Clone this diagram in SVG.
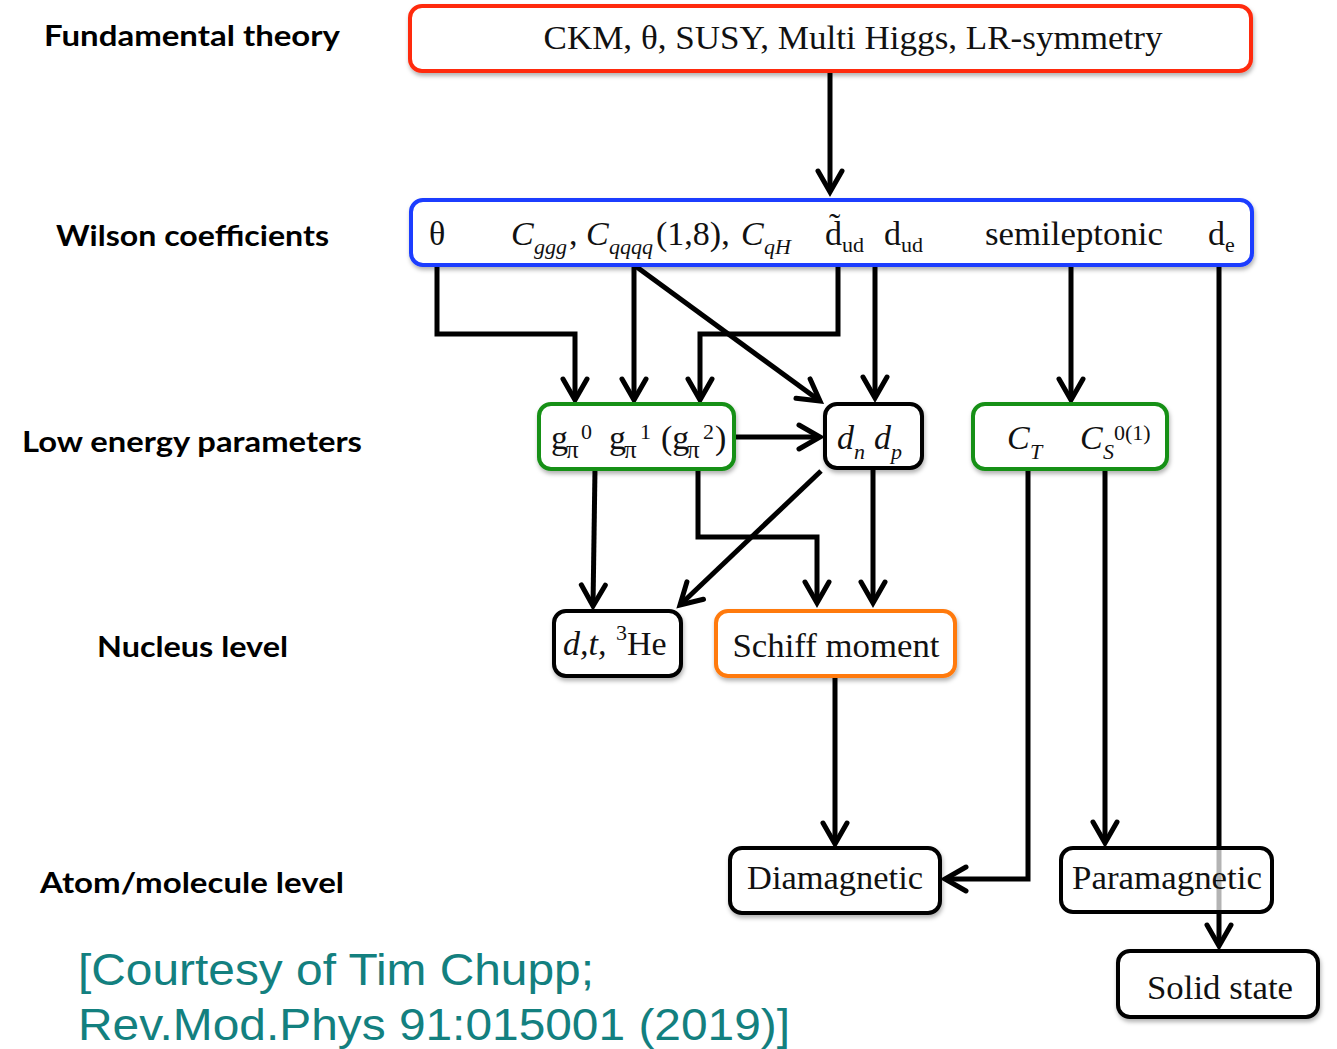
<svg xmlns="http://www.w3.org/2000/svg" width="1337" height="1049" viewBox="0 0 1337 1049">
<style>
.lbl{font-family:"Lato","Open Sans",sans-serif;font-weight:bold;font-size:28px;fill:#000}
.t{font-family:"Liberation Serif","Times New Roman",serif;font-size:34px;fill:#111}
.i{font-style:italic}
.s{font-size:22px}
.p{font-size:25px}
.box{fill:#fff;stroke-width:4;filter:url(#sh)}
.c{fill:none;stroke:#000;stroke-width:5;stroke-linejoin:miter}
.cite{font-family:"Liberation Sans",Arial,sans-serif;font-size:44px;fill:#13807f}
</style>
<defs>
<filter id="sh" x="-10%" y="-20%" width="120%" height="150%">
<feDropShadow dx="1" dy="3" stdDeviation="2" flood-color="#000" flood-opacity="0.3"/>
</filter>
<marker id="ah" markerUnits="userSpaceOnUse" markerWidth="40" markerHeight="40" viewBox="-30 -20 40 40" refX="0" refY="0" orient="auto" overflow="visible">
<path d="M-21,-12 L0,0 L-21,12" fill="none" stroke="#000" stroke-width="5" stroke-linecap="round" stroke-linejoin="miter"/>
</marker>
</defs>
<rect width="1337" height="1049" fill="#fff"/>

<g id="labels">
<text class="lbl" x="44" y="46" textLength="296" lengthAdjust="spacingAndGlyphs">Fundamental theory</text>
<text class="lbl" x="56" y="246" textLength="273" lengthAdjust="spacingAndGlyphs">Wilson coefficients</text>
<text class="lbl" x="22" y="452" textLength="340" lengthAdjust="spacingAndGlyphs">Low energy parameters</text>
<text class="lbl" x="97" y="657" textLength="191" lengthAdjust="spacingAndGlyphs">Nucleus level</text>
<text class="lbl" x="40" y="893" textLength="304" lengthAdjust="spacingAndGlyphs">Atom/molecule level</text>
</g>

<g id="connectors">
<path class="c" d="M830,71 V192" marker-end="url(#ah)"/>
<path class="c" d="M437,265 V334 H575 V400" marker-end="url(#ah)"/>
<path class="c" d="M634,265 V400" marker-end="url(#ah)"/>
<path class="c" d="M634,265 L820,401" marker-end="url(#ah)"/>
<path class="c" d="M838,265 V334 H700 V400" marker-end="url(#ah)"/>
<path class="c" d="M875,265 V398" marker-end="url(#ah)"/>
<path class="c" d="M1071,265 V400" marker-end="url(#ah)"/>
<path class="c" d="M1219,265 V946" marker-end="url(#ah)"/>
<path class="c" d="M734,437 H820" marker-end="url(#ah)"/>
<path class="c" d="M595,469 L593,606" marker-end="url(#ah)"/>
<path class="c" d="M698,469 V537 H817 V603" marker-end="url(#ah)"/>
<path class="c" d="M821,471 L680,605" marker-end="url(#ah)"/>
<path class="c" d="M873,468 V603" marker-end="url(#ah)"/>
<path class="c" d="M1028,469 V879 H945" marker-end="url(#ah)"/>
<path class="c" d="M1105,469 V843" marker-end="url(#ah)"/>
<path class="c" d="M835,676 V844" marker-end="url(#ah)"/>
</g>

<g id="fundamental">
<rect class="box" x="410" y="6" width="841" height="65" rx="12" stroke="#ff2a0a"/>
<text class="t" x="853" y="49" text-anchor="middle" textLength="619" lengthAdjust="spacingAndGlyphs">CKM, θ, SUSY, Multi Higgs, LR-symmetry</text>
</g>

<g id="wilson">
<rect class="box" x="411" y="200" width="841" height="65" rx="12" stroke="#1a3cff"/>
<text class="t" x="429" y="245">θ</text>
<text class="t i" x="511" y="245">C</text>
<text class="t i s" x="534" y="254">ggg</text>
<text class="t" x="569" y="245">,</text>
<text class="t i" x="586" y="245">C</text>
<text class="t i s" x="609" y="254">qqqq</text>
<text class="t" x="656" y="245">(1,8),</text>
<text class="t i" x="741" y="245">C</text>
<text class="t i s" x="764" y="254">qH</text>
<text class="t" x="825" y="245">d̃</text>
<text class="t s" x="842" y="252">ud</text>
<text class="t" x="884" y="245">d</text>
<text class="t s" x="901" y="252">ud</text>
<text class="t" x="985" y="245" textLength="178" lengthAdjust="spacingAndGlyphs">semileptonic</text>
<text class="t" x="1208" y="245">d</text>
<text class="t s" x="1225" y="252">e</text>
</g>

<g id="gpi">
<rect class="box" x="539" y="404" width="195" height="65" rx="12" stroke="#159015"/>
<text class="t" x="551" y="449">g</text>
<text class="t p" x="566" y="458">π</text>
<text class="t s" x="581" y="439">0</text>
<text class="t" x="609" y="449">g</text>
<text class="t p" x="624" y="458">π</text>
<text class="t s" x="640" y="439">1</text>
<text class="t" x="661" y="449">(g</text>
<text class="t p" x="687" y="458">π</text>
<text class="t s" x="703" y="439">2</text>
<text class="t" x="715" y="449">)</text>
</g>

<g id="dndp">
<rect class="box" x="825" y="404" width="97" height="64" rx="12" stroke="#000"/>
<text class="t i" x="837" y="449">d</text>
<text class="t i s" x="854" y="459">n</text>
<text class="t i" x="874" y="449">d</text>
<text class="t i s" x="891" y="459">p</text>
</g>

<g id="ctcs">
<rect class="box" x="973" y="404" width="194" height="65" rx="12" stroke="#159015"/>
<text class="t i" x="1007" y="449">C</text>
<text class="t i s" x="1030" y="459">T</text>
<text class="t i" x="1080" y="449">C</text>
<text class="t i s" x="1103" y="459">S</text>
<text class="t s" x="1114" y="440">0(1)</text>
</g>

<g id="nucleus">
<rect class="box" x="554" y="611" width="127" height="65" rx="12" stroke="#000"/>
<text class="t i" x="563" y="655">d,t,</text>
<text class="t s" x="616" y="640">3</text>
<text class="t" x="627" y="655">He</text>
</g>

<g id="schiff">
<rect class="box" x="716" y="611" width="239" height="65" rx="12" stroke="#ff7a0a"/>
<text class="t" x="836" y="657" text-anchor="middle" textLength="207" lengthAdjust="spacingAndGlyphs">Schiff moment</text>
</g>

<g id="diamagnetic">
<rect class="box" x="730" y="848" width="210" height="65" rx="12" stroke="#000"/>
<text class="t" x="835" y="889" text-anchor="middle" textLength="176" lengthAdjust="spacingAndGlyphs">Diamagnetic</text>
</g>

<g id="paramagnetic">
<rect x="1061" y="848" width="211" height="64" rx="12" fill="#fff" fill-opacity="0.7" stroke="#000" stroke-width="4"/>
<text class="t" x="1167" y="889" text-anchor="middle" textLength="190" lengthAdjust="spacingAndGlyphs">Paramagnetic</text>
</g>

<g id="solid">
<rect class="box" x="1118" y="951" width="200" height="66" rx="12" stroke="#000"/>
<text class="t" x="1220" y="999" text-anchor="middle" textLength="146" lengthAdjust="spacingAndGlyphs">Solid state</text>
</g>

<g id="citation">
<text class="cite" x="78" y="985" textLength="516" lengthAdjust="spacingAndGlyphs">[Courtesy of Tim Chupp;</text>
<text class="cite" x="78" y="1040" textLength="712" lengthAdjust="spacingAndGlyphs">Rev.Mod.Phys 91:015001 (2019)]</text>
</g>
</svg>
